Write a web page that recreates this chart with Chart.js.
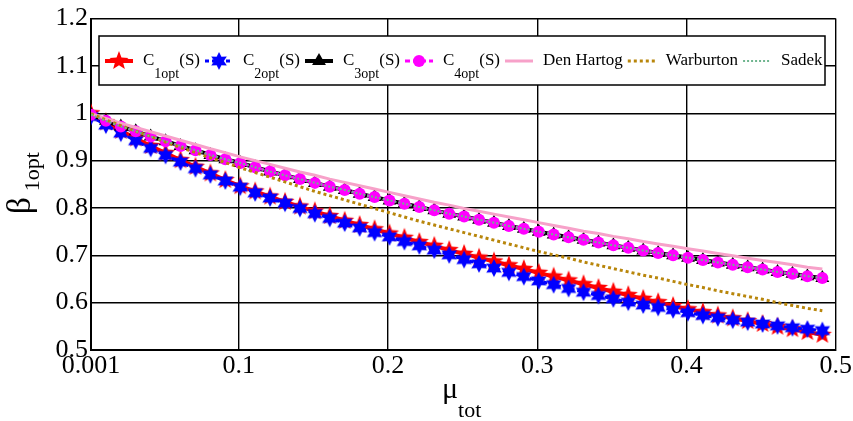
<!DOCTYPE html>
<html>
<head>
<meta charset="utf-8">
<script src="https://cdn.jsdelivr.net/npm/chart.js@4.4.0/dist/chart.umd.min.js"></script>
<style>
  html, body { margin: 0; padding: 0; background: #fff; }
  #wrap { width: 853px; height: 421px; }
</style>
</head>
<body>
<div id="wrap"><canvas id="betaChart" width="853" height="421"></canvas></div>
<script>
// mass ratio values (x) and tick labels
const mu = [0.001, 0.011, 0.021, 0.031, 0.041, 0.051, 0.061, 0.071, 0.081, 0.091,
            0.101, 0.111, 0.121, 0.131, 0.141, 0.151, 0.161, 0.171, 0.181, 0.191,
            0.201, 0.211, 0.221, 0.231, 0.241, 0.251, 0.261, 0.271, 0.281, 0.291,
            0.301, 0.311, 0.321, 0.331, 0.341, 0.351, 0.361, 0.371, 0.381, 0.391,
            0.401, 0.411, 0.421, 0.431, 0.441, 0.451, 0.461, 0.471, 0.481, 0.491];
const xTicks = [0.001, 0.1, 0.2, 0.3, 0.4, 0.5];
const xTickLabels = ['0.001', '0.1', '0.2', '0.3', '0.4', '0.5'];
const yTicks = [0.5, 0.6, 0.7, 0.8, 0.9, 1.0, 1.1, 1.2];
const yTickLabels = ['0.5', '0.6', '0.7', '0.8', '0.9', '1', '1.1', '1.2'];

// series
const c1Opt = [1.000, 0.981, 0.963, 0.947, 0.931, 0.916, 0.901, 0.887, 0.873, 0.859,
               0.846, 0.835, 0.824, 0.813, 0.803, 0.793, 0.783, 0.773, 0.764, 0.755,
               0.746, 0.737, 0.728, 0.720, 0.711, 0.703, 0.695, 0.687, 0.679, 0.671,
               0.663, 0.655, 0.647, 0.639, 0.631, 0.623, 0.616, 0.608, 0.601, 0.593,
               0.586, 0.580, 0.573, 0.567, 0.561, 0.555, 0.549, 0.544, 0.538, 0.532];
const c2Opt = [0.993, 0.975, 0.958, 0.942, 0.926, 0.911, 0.897, 0.883, 0.870, 0.857,
               0.844, 0.832, 0.821, 0.810, 0.799, 0.788, 0.778, 0.768, 0.758, 0.748,
               0.739, 0.729, 0.720, 0.711, 0.701, 0.691, 0.682, 0.673, 0.664, 0.655,
               0.646, 0.638, 0.630, 0.622, 0.615, 0.608, 0.601, 0.595, 0.590, 0.585,
               0.579, 0.573, 0.568, 0.563, 0.559, 0.555, 0.551, 0.547, 0.544, 0.541];
const c3Opt = [0.997, 0.984, 0.972, 0.962, 0.951, 0.941, 0.931, 0.922, 0.912, 0.903,
               0.895, 0.886, 0.877, 0.869, 0.861, 0.853, 0.845, 0.838, 0.830, 0.823,
               0.816, 0.809, 0.802, 0.795, 0.788, 0.782, 0.775, 0.769, 0.762, 0.756,
               0.750, 0.744, 0.738, 0.733, 0.727, 0.721, 0.716, 0.710, 0.705, 0.700,
               0.695, 0.690, 0.685, 0.680, 0.675, 0.670, 0.665, 0.661, 0.656, 0.652];
const c4Opt = [0.997, 0.984, 0.972, 0.962, 0.951, 0.941, 0.931, 0.922, 0.912, 0.903,
               0.895, 0.886, 0.877, 0.869, 0.861, 0.853, 0.845, 0.838, 0.830, 0.823,
               0.816, 0.809, 0.802, 0.795, 0.788, 0.782, 0.775, 0.769, 0.762, 0.756,
               0.750, 0.744, 0.738, 0.733, 0.727, 0.721, 0.716, 0.710, 0.705, 0.700,
               0.695, 0.690, 0.685, 0.680, 0.675, 0.670, 0.665, 0.661, 0.656, 0.652];
const denHartog = [0.999, 0.989, 0.979, 0.970, 0.961, 0.952, 0.943, 0.934, 0.925, 0.917,
                   0.908, 0.900, 0.892, 0.884, 0.876, 0.869, 0.861, 0.854, 0.847, 0.840,
                   0.833, 0.826, 0.819, 0.812, 0.806, 0.799, 0.793, 0.787, 0.781, 0.775,
                   0.769, 0.763, 0.757, 0.751, 0.746, 0.740, 0.735, 0.729, 0.724, 0.719,
                   0.714, 0.709, 0.704, 0.699, 0.694, 0.689, 0.685, 0.680, 0.675, 0.671];
const warburton = [0.999, 0.986, 0.974, 0.962, 0.951, 0.939, 0.928, 0.917, 0.906, 0.896,
                   0.885, 0.875, 0.865, 0.855, 0.845, 0.835, 0.826, 0.817, 0.808, 0.799,
                   0.790, 0.781, 0.772, 0.764, 0.756, 0.748, 0.740, 0.732, 0.724, 0.716,
                   0.708, 0.701, 0.694, 0.686, 0.679, 0.672, 0.665, 0.658, 0.652, 0.645,
                   0.638, 0.632, 0.625, 0.619, 0.613, 0.607, 0.600, 0.594, 0.588, 0.583];
const sadek = [0.997, 0.984, 0.972, 0.962, 0.951, 0.941, 0.931, 0.922, 0.912, 0.903,
               0.895, 0.886, 0.877, 0.869, 0.861, 0.853, 0.845, 0.838, 0.830, 0.823,
               0.816, 0.809, 0.802, 0.795, 0.788, 0.782, 0.775, 0.769, 0.762, 0.756,
               0.750, 0.744, 0.738, 0.733, 0.727, 0.721, 0.716, 0.710, 0.705, 0.700,
               0.695, 0.690, 0.685, 0.680, 0.675, 0.670, 0.665, 0.661, 0.656, 0.652];

const FONT = '"Liberation Serif", "Times New Roman", serif';

// filled star markers (matlab pentagram / hexagram look)
function starCanvas(n, rOut, rIn, color) {
    const s = Math.ceil(rOut * 2 + 2);
    const c = document.createElement('canvas');
    c.width = s; c.height = s;
    const g = c.getContext('2d');
    g.translate(s / 2, s / 2);
    g.beginPath();
    for (let i = 0; i < 2 * n; i++) {
        const r = i % 2 ? rIn : rOut;
        const a = -Math.PI / 2 + i * Math.PI / n;
        g.lineTo(r * Math.cos(a), r * Math.sin(a));
    }
    g.closePath();
    g.fillStyle = color;
    g.fill();
    return c;
}
const redStar = starCanvas(5, 10, 4.2, '#ff0000');
const blueStar = starCanvas(6, 9, 4.8, '#0000ff');

const pts = ys => mu.map((m, i) => ({ x: m, y: ys[i] }));

const datasets = [
    { label: 'C1', sub: '1opt', data: pts(c1Opt), borderColor: '#ff0000', borderWidth: 4,
      pointStyle: redStar, pointRadius: 10, order: 7 },
    { label: 'C2', sub: '2opt', data: pts(c2Opt), borderColor: '#0000ff', borderWidth: 3, borderDash: [4, 3],
      pointStyle: blueStar, pointRadius: 9, order: 6 },
    { label: 'C3', sub: '3opt', data: pts(c3Opt), borderColor: '#000000', borderWidth: 4,
      pointStyle: 'triangle', pointRadius: 8, backgroundColor: '#000000', order: 5 },
    { label: 'C4', sub: '4opt', data: pts(c4Opt), borderColor: '#ff00ff', borderWidth: 3, borderDash: [5, 3],
      pointStyle: 'circle', pointRadius: 6, backgroundColor: '#ff00ff', order: 4 },
    { label: 'Den Hartog', data: pts(denHartog), borderColor: '#f7a1c9', borderWidth: 3,
      pointRadius: 0, order: 3 },
    { label: 'Warburton', data: pts(warburton), borderColor: '#b8860b', borderWidth: 3, borderDash: [3, 3],
      pointRadius: 0, order: 2 },
    { label: 'Sadek', data: pts(sadek), borderColor: '#6fb58f', borderWidth: 2, borderDash: [2, 2],
      pointRadius: 0, order: 1 }
];
datasets.forEach(d => {
    d.fill = false;
    d.tension = 0;
    d.pointBorderWidth = 0;
    d.pointBorderColor = d.borderColor;
    if (!d.backgroundColor) d.backgroundColor = d.borderColor;
});

function drawMarker(ctx, ds, x, y) {
    const st = ds.pointStyle;
    if (!ds.pointRadius) return;
    if (st instanceof HTMLCanvasElement) {
        ctx.drawImage(st, x - st.width / 2, y - st.height / 2);
    } else if (st === 'triangle') {
        const r = ds.pointRadius;
        ctx.beginPath();
        for (let i = 0; i < 3; i++) {
            const a = i * 2 * Math.PI / 3;
            ctx.lineTo(x + Math.sin(a) * r, y - Math.cos(a) * r);
        }
        ctx.closePath();
        ctx.fillStyle = ds.backgroundColor;
        ctx.fill();
    } else {
        ctx.beginPath();
        ctx.arc(x, y, ds.pointRadius, 0, Math.PI * 2);
        ctx.fillStyle = ds.backgroundColor;
        ctx.fill();
    }
}

// legend box with subscripts, drawn on top
const legendBox = {
    id: 'legendBox',
    afterDraw(chart) {
        const ctx = chart.ctx;
        const box = { l: 99, t: 36, r: 825, b: 85 };
        ctx.save();
        ctx.fillStyle = '#fff';
        ctx.fillRect(box.l, box.t, box.r - box.l, box.b - box.t);
        ctx.strokeStyle = '#000';
        ctx.lineWidth = 1.5;
        ctx.strokeRect(box.l, box.t, box.r - box.l, box.b - box.t);

        const yMid = 61;
        let x = 105;
        chart.data.datasets.forEach(ds => {
            // sample line
            ctx.save();
            ctx.strokeStyle = ds.borderColor;
            ctx.lineWidth = ds.borderWidth;
            ctx.setLineDash(ds.borderDash || []);
            ctx.beginPath();
            ctx.moveTo(x, yMid);
            ctx.lineTo(x + 28, yMid);
            ctx.stroke();
            ctx.restore();
            drawMarker(ctx, ds, x + 14, yMid);
            x += 38;
            ctx.fillStyle = '#000';
            ctx.textBaseline = 'alphabetic';
            ctx.textAlign = 'left';
            if (ds.sub) {
                ctx.font = '17px ' + FONT;
                ctx.fillText('C', x, 65);
                x += ctx.measureText('C').width;
                ctx.font = '14px ' + FONT;
                ctx.fillText(ds.sub, x, 78);
                x += ctx.measureText(ds.sub).width;
                ctx.font = '17px ' + FONT;
                ctx.fillText('(S)', x, 65);
                x += ctx.measureText('(S)').width + 5;
            } else {
                ctx.font = '17px ' + FONT;
                ctx.fillText(ds.label, x, 65);
                x += ctx.measureText(ds.label).width + 5;
            }
        });
        ctx.restore();
    }
};

// axis titles with subscripts
const axisTitles = {
    id: 'axisTitles',
    afterDraw(chart) {
        const ctx = chart.ctx;
        ctx.save();
        ctx.fillStyle = '#000';
        ctx.textAlign = 'left';
        ctx.textBaseline = 'alphabetic';
        // x title
        ctx.font = '30px ' + FONT;
        ctx.fillText('\u03bc', 442, 398);
        const muW = ctx.measureText('\u03bc').width;
        ctx.font = '22px ' + FONT;
        ctx.fillText('tot', 442 + muW, 417);
        // y title, rotated
        ctx.translate(30, 214);
        ctx.rotate(-Math.PI / 2);
        ctx.font = '33px ' + FONT;
        ctx.fillText('\u03b2', 0, 0);
        const bW = ctx.measureText('\u03b2').width;
        ctx.font = '22px ' + FONT;
        ctx.fillText('1opt', bW + 6, 9);
        ctx.restore();
    }
};

const ctx = document.getElementById('betaChart').getContext('2d');
new Chart(ctx, {
    type: 'line',
    data: { datasets: datasets },
    options: {
        responsive: false,
        animation: false,
        layout: { padding: { left: 0, top: 17, right: 15, bottom: 0 } },
        plugins: { legend: { display: false }, tooltip: { enabled: false } },
        scales: {
            x: {
                type: 'linear',
                min: 0.001,
                max: 0.5,
                afterBuildTicks: scale => { scale.ticks = xTicks.map(v => ({ value: v })); },
                afterFit: scale => { scale.height = 71; },
                ticks: {
                    callback: (v, i) => xTickLabels[i],
                    font: { family: FONT, size: 26 },
                    color: '#000',
                    padding: 1,
                    maxRotation: 0,
                    autoSkip: false
                },
                grid: { color: '#000', lineWidth: 1.4, drawTicks: false },
                border: { color: '#000', width: 2 }
            },
            y: {
                type: 'linear',
                min: 0.5,
                max: 1.2,
                afterBuildTicks: scale => { scale.ticks = yTicks.map(v => ({ value: v })); },
                afterFit: scale => { scale.width = 91; },
                ticks: {
                    callback: (v, i) => yTickLabels[i],
                    font: { family: FONT, size: 26 },
                    color: '#000',
                    padding: 3,
                    autoSkip: false
                },
                grid: { color: '#000', lineWidth: 1.4, drawTicks: false },
                border: { color: '#000', width: 2 }
            }
        }
    },
    plugins: [legendBox, axisTitles]
});
</script>
</body>
</html>
